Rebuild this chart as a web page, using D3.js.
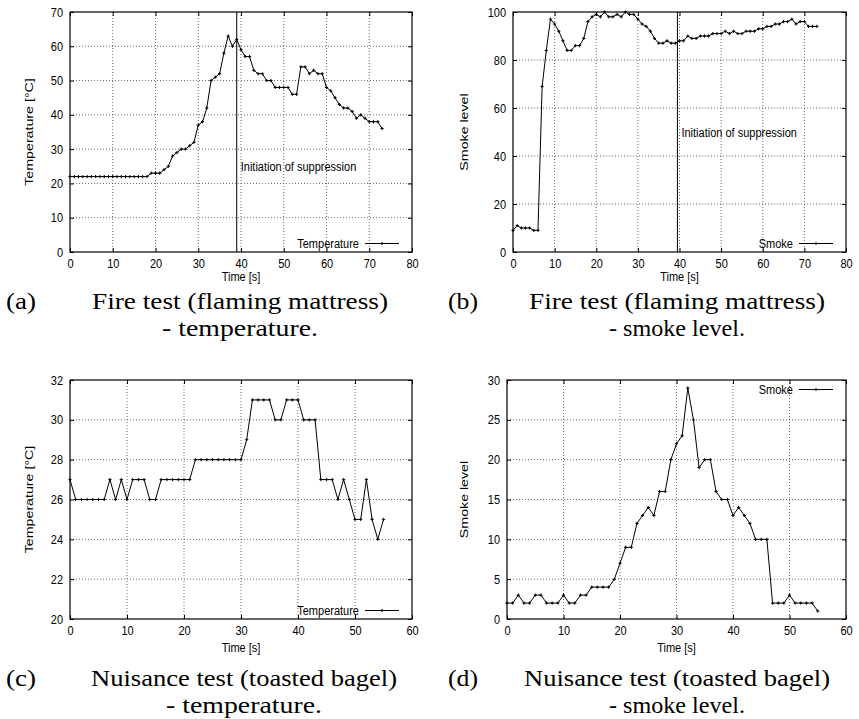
<!DOCTYPE html>
<html>
<head>
<meta charset="utf-8">
<script src="https://cdn.jsdelivr.net/npm/d3@7"></script>
<style>
  body { margin: 0; background: #fff; }
  text { fill: #000; }
</style>
</head>
<body>
<svg id="fig" width="859" height="719"></svg>
<script>
// fire test (flaming mattress), one reading per second
const fireTime = [0,1,2,3,4,5,6,7,8,9,10,11,12,13,14,15,16,17,18,19,20,21,22,23,24,25,26,27,28,29,30,31,32,33,34,35,36,37,38,39,40,41,42,43,44,45,46,47,48,49,50,51,52,53,54,55,56,57,58,59,60,61,62,63,64,65,66,67,68,69,70,71,72,73];
const fireTemp = [22,22,22,22,22,22,22,22,22,22,22,22,22,22,22,22,22,22,22,23,23,23,24,25,28,29,30,30,31,32,37,38,42,50,51,52,58,63,60,62,59,57,57,53,52,52,50,50,48,48,48,48,46,46,54,54,52,53,52,52,48,47,45,43,42,42,41,39,40,39,38,38,38,36];
const fireSmoke = [9,11,10,10,10,9,9,69,84,97,95,92,88,84,84,86,86,89,96,98,99,98,100,98,98,99,98,100,99,99,97,95,94,92,89,87,87,88,87,87,88,88,90,89,89,90,90,90,91,91,91,92,91,92,91,91,92,92,92,93,93,94,94,95,95,96,96,97,95,96,96,94,94,94];

// nuisance test (toasted bagel)
const bagelTime = [0,1,2,3,4,5,6,7,8,9,10,11,12,13,14,15,16,17,18,19,20,21,22,23,24,25,26,27,28,29,30,31,32,33,34,35,36,37,38,39,40,41,42,43,44,45,46,47,48,49,50,51,52,53,54,55];
const bagelTemp = [27,26,26,26,26,26,26,27,26,27,26,27,27,27,26,26,27,27,27,27,27,27,28,28,28,28,28,28,28,28,28,29,31,31,31,31,30,30,31,31,31,30,30,30,27,27,27,26,27,26,25,25,27,25,24,25];
const bagelSmoke = [2,2,3,2,2,3,3,2,2,2,3,2,2,3,3,4,4,4,4,5,7,9,9,12,13,14,13,16,16,20,22,23,29,25,19,20,20,16,15,15,13,14,13,12,10,10,10,2,2,2,3,2,2,2,2,1];

// tick labels
const fireTimeTicks = [0,10,20,30,40,50,60,70,80];
const fireTempTicks = [0,10,20,30,40,50,60,70];
const fireSmokeTicks = [0,20,40,60,80,100];
const bagelTimeTicks = [0,10,20,30,40,50,60];
const bagelTempTicks = [20,22,24,26,28,30,32];
const bagelSmokeTicks = [0,5,10,15,20,25,30];

// time at which suppression starts (vertical marker)
const suppressTempAt = 39;
const suppressSmokeAt = 39.5;
const suppressLabel = "Initiation of suppression";

const SANS = "'Liberation Sans', Arial, Helvetica, sans-serif";
const SERIF = "'Liberation Serif', 'Times New Roman', serif";

const svg = d3.select("#fig");

// the plots were scaled taller than wide: squeeze horizontal text, stretch rotated text
function squeeze(sel, k) {
  sel.each(function () {
    const w = this.getComputedTextLength();
    d3.select(this).attr("textLength", w * k).attr("lengthAdjust", "spacingAndGlyphs");
  });
}

function plus(g, x, y, s) {
  g.append("path")
    .attr("d", `M${x - s},${y}H${x + s}M${x},${y - s}V${y + s}`)
    .attr("stroke", "#000").attr("stroke-width", 1).attr("fill", "none");
}

function panel(o) {
  const x = d3.scaleLinear().domain(d3.extent(o.xTicks)).range([o.l, o.r]);
  const y = d3.scaleLinear().domain(d3.extent(o.yTicks)).range([o.b, o.t]);
  const g = svg.append("g").style("font-family", SANS);

  // dotted grid
  g.selectAll(".gx").data(o.xTicks.slice(1, -1)).enter().append("line")
    .attr("x1", d => x(d)).attr("x2", d => x(d)).attr("y1", o.t).attr("y2", o.b)
    .attr("stroke", "#444").attr("stroke-width", 0.8).attr("stroke-dasharray", "1,2");
  g.selectAll(".gy").data(o.yTicks.slice(1, -1)).enter().append("line")
    .attr("y1", d => y(d)).attr("y2", d => y(d)).attr("x1", o.l).attr("x2", o.r)
    .attr("stroke", "#444").attr("stroke-width", 0.8).attr("stroke-dasharray", "1,2");

  // axes, ticks pointing inside, mirrored
  const ax = (gen, tr, ticks, lab) => g.append("g").attr("transform", tr)
    .call(gen.tickValues(ticks).tickSize(-4).tickPadding(7).tickFormat(lab ? d3.format("d") : ""))
    .call(s => s.select(".domain").remove())
    .call(s => s.selectAll("text").attr("font-size", 12.5).style("font-family", SANS));
  const bx = ax(d3.axisBottom(x), `translate(0,${o.b})`, o.xTicks, true);
  ax(d3.axisTop(x), `translate(0,${o.t})`, o.xTicks, false).selectAll("line").attr("y2", 4);
  const ly = ax(d3.axisLeft(y), `translate(${o.l},0)`, o.yTicks, true);
  ax(d3.axisRight(y), `translate(${o.r},0)`, o.yTicks, false).selectAll("line").attr("x2", -4);
  squeeze(bx.selectAll("text"), 0.88);
  squeeze(ly.selectAll("text"), 0.88);

  g.append("rect").attr("x", o.l).attr("y", o.t).attr("width", o.r - o.l).attr("height", o.b - o.t)
    .attr("fill", "none").attr("stroke", "#000").attr("stroke-width", 1.2);

  // axis titles
  squeeze(g.append("text").attr("x", (o.l + o.r) / 2).attr("y", o.b + o.timeDy).attr("text-anchor", "middle")
    .attr("font-size", 12.5).text("Time [s]"), 0.88);
  squeeze(g.append("text").attr("transform", `translate(${o.titleX},${(o.t + o.b) / 2}) rotate(-90)`)
    .attr("text-anchor", "middle").attr("font-size", 10).text(o.yTitle), 1.42);

  // suppression marker
  if (o.suppress !== undefined) {
    g.append("line").attr("x1", x(o.suppress)).attr("x2", x(o.suppress)).attr("y1", o.t).attr("y2", o.b)
      .attr("stroke", "#000").attr("stroke-width", 1);
    squeeze(g.append("text").attr("x", x(o.suppress) + 4).attr("y", y(o.suppressY) + 4.5)
      .attr("font-size", 12.5).text(suppressLabel), 0.88);
  }

  // series
  const pts = o.time.map((t, i) => [t, o.values[i]]);
  g.append("path").datum(pts)
    .attr("d", d3.line().x(d => x(d[0])).y(d => y(d[1])))
    .attr("fill", "none").attr("stroke", "#000").attr("stroke-width", 1);
  const m = g.append("g");
  pts.forEach(d => plus(m, x(d[0]), y(d[1]), 1.6));

  // key
  const ky = o.keyTop ? o.t + 9.5 : o.b - 8.5;
  squeeze(g.append("text").attr("x", o.r - 53).attr("y", ky + 4.5).attr("text-anchor", "end")
    .attr("font-size", 12.5).text(o.key), 0.88);
  g.append("line").attr("x1", o.r - 47).attr("x2", o.r - 13).attr("y1", ky).attr("y2", ky)
    .attr("stroke", "#000").attr("stroke-width", 1);
  plus(g, o.r - 30, ky, 1.6);
}

function caption(label, lx, cx, base, line1, w1, line2, w2) {
  const g = svg.append("g").style("font-family", SERIF).attr("font-size", 23);
  g.append("text").attr("x", lx).attr("y", base).attr("textLength", 30)
    .attr("lengthAdjust", "spacingAndGlyphs").text(label);
  g.append("text").attr("x", cx).attr("y", base).attr("text-anchor", "middle")
    .attr("textLength", w1).attr("lengthAdjust", "spacingAndGlyphs").text(line1);
  g.append("text").attr("x", cx).attr("y", base + 27).attr("text-anchor", "middle")
    .attr("textLength", w2).attr("lengthAdjust", "spacingAndGlyphs").text(line2);
}

panel({ l: 70, r: 412, t: 12, b: 252, xTicks: fireTimeTicks, yTicks: fireTempTicks,
  time: fireTime, values: fireTemp, yTitle: "Temperature [\u00B0C]", titleX: 33, timeDy: 29,
  key: "Temperature", suppress: suppressTempAt, suppressY: 25 });
panel({ l: 513, r: 846, t: 12, b: 252, xTicks: fireTimeTicks, yTicks: fireSmokeTicks,
  time: fireTime, values: fireSmoke, yTitle: "Smoke level", titleX: 468, timeDy: 29,
  key: "Smoke", suppress: suppressSmokeAt, suppressY: 50 });
panel({ l: 70, r: 412, t: 380, b: 619, xTicks: bagelTimeTicks, yTicks: bagelTempTicks,
  time: bagelTime, values: bagelTemp, yTitle: "Temperature [\u00B0C]", titleX: 33, timeDy: 33,
  key: "Temperature" });
panel({ l: 507, r: 846, t: 380, b: 619, xTicks: bagelTimeTicks, yTicks: bagelSmokeTicks,
  time: bagelTime, values: bagelSmoke, yTitle: "Smoke level", titleX: 468, timeDy: 33,
  key: "Smoke", keyTop: true });

caption("(a)", 6, 240, 309, "Fire test (flaming mattress)", 296, "- temperature.", 156);
caption("(b)", 448, 677, 309, "Fire test (flaming mattress)", 296, "- smoke level.", 136);
caption("(c)", 6, 244, 686, "Nuisance test (toasted bagel)", 306, "- temperature.", 156);
caption("(d)", 448, 677, 686, "Nuisance test (toasted bagel)", 306, "- smoke level.", 136);
</script>
</body>
</html>
